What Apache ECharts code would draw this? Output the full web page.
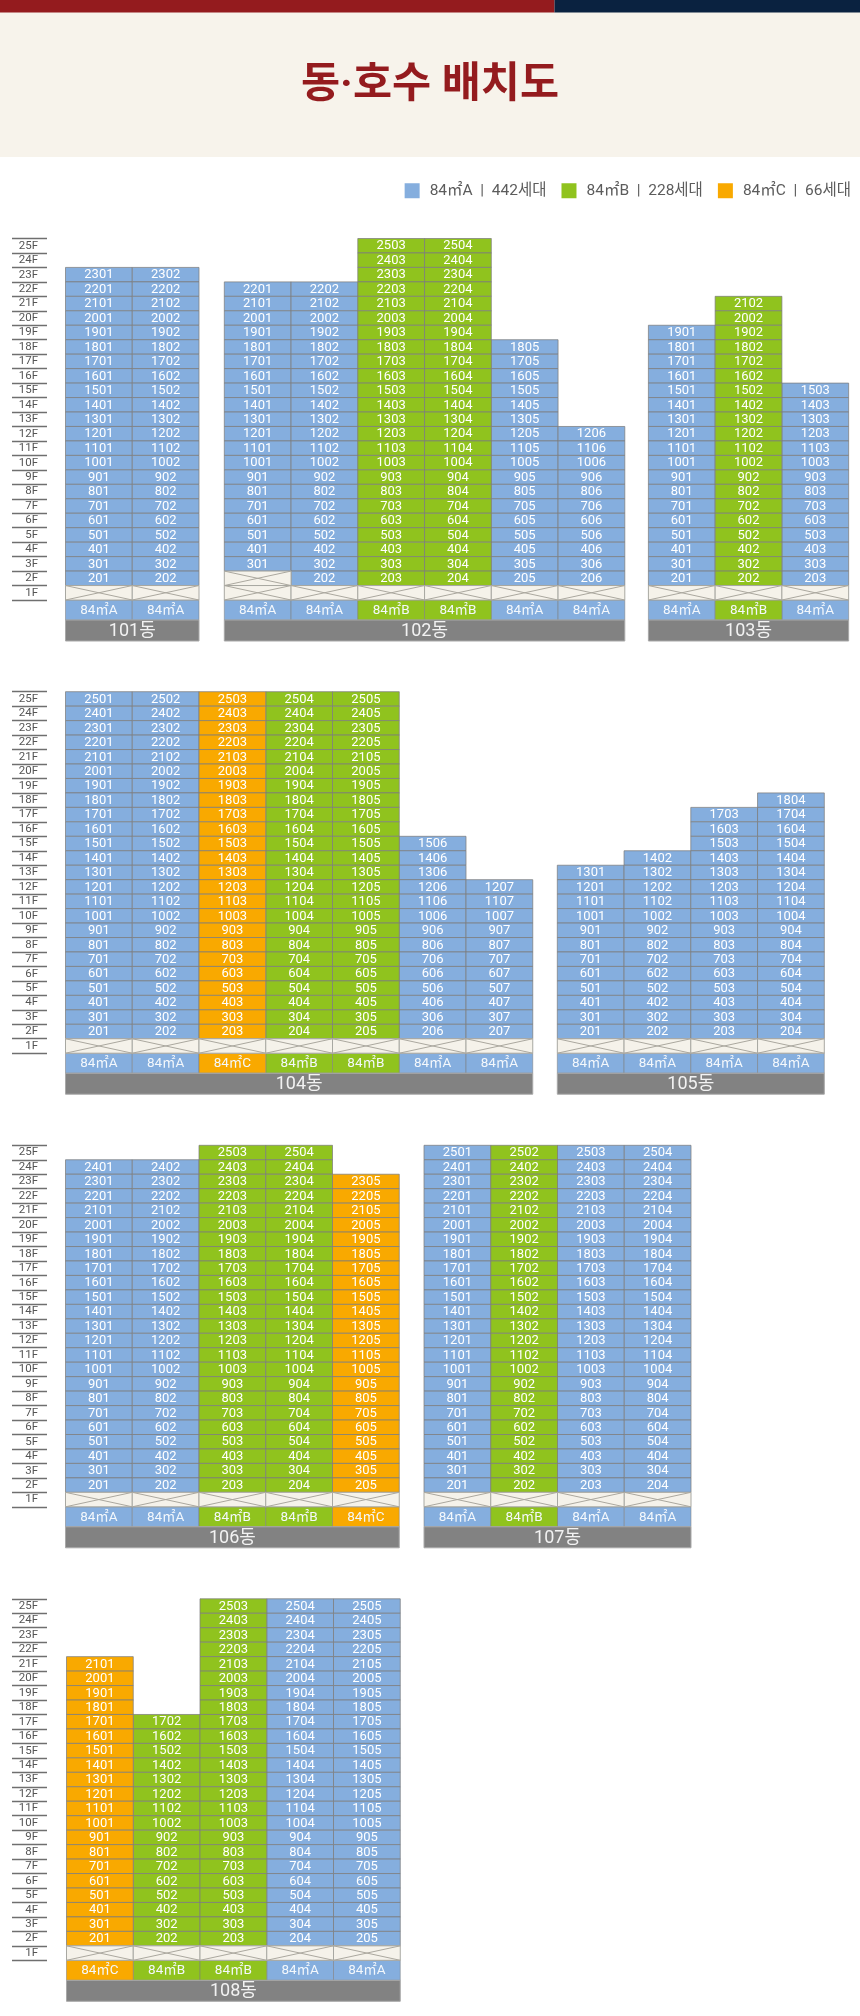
<!DOCTYPE html>
<html>
<head>
<meta charset="utf-8">
<style>
  html, body { margin: 0; padding: 0; background: #fff; }
  #chart { width: 860px; height: 2016px; }
</style>
<script src="https://cdn.jsdelivr.net/npm/echarts@6/dist/echarts.min.js"></script>
</head>
<body>
<div id="chart"></div>
<script>
// floors, top to bottom
const floorLabels = ['25F','24F','23F','22F','21F','20F','19F','18F','17F','16F','15F','14F','13F',
  '12F','11F','10F','9F','8F','7F','6F','5F','4F','3F','2F','1F'];

const buildingNames = ['101동','102동','103동','104동','105동','106동','107동','108동'];

// per column: highest floor, lowest floor with a unit, unit type
const tops101 = [23, 23];
const lows101 = [2, 2];
const types101 = ['A', 'A'];

const tops102 = [22, 22, 25, 25, 18, 12];
const lows102 = [3, 2, 2, 2, 2, 2];
const types102 = ['A', 'A', 'B', 'B', 'A', 'A'];

const tops103 = [19, 21, 15];
const lows103 = [2, 2, 2];
const types103 = ['A', 'B', 'A'];

const tops104 = [25, 25, 25, 25, 25, 15, 12];
const lows104 = [2, 2, 2, 2, 2, 2, 2];
const types104 = ['A', 'A', 'C', 'B', 'B', 'A', 'A'];

const tops105 = [13, 14, 17, 18];
const lows105 = [2, 2, 2, 2];
const types105 = ['A', 'A', 'A', 'A'];

const tops106 = [24, 24, 25, 25, 23];
const lows106 = [2, 2, 2, 2, 2];
const types106 = ['A', 'A', 'B', 'B', 'C'];

const tops107 = [25, 25, 25, 25];
const lows107 = [2, 2, 2, 2];
const types107 = ['A', 'B', 'A', 'A'];

const tops108 = [21, 17, 25, 25, 25];
const lows108 = [2, 2, 2, 2, 2];
const types108 = ['C', 'B', 'B', 'A', 'A'];

const allTops = [tops101, tops102, tops103, tops104, tops105, tops106, tops107, tops108];
const allLows = [lows101, lows102, lows103, lows104, lows105, lows106, lows107, lows108];
const allTypes = [types101, types102, types103, types104, types105, types106, types107, types108];

const typeNames = { A: '84㎡A  |  442세대', B: '84㎡B  |  228세대', C: '84㎡C  |  66세대' };
const typeShort = { A: '84㎡A', B: '84㎡B', C: '84㎡C' };

// layout
const colors = { A: '#85aede', B: '#90c31e', C: '#f9a900' };
const buildingLefts = [65.5, 224.3, 648.4, 65.5, 557.3, 65.5, 424, 66.5];
const buildingTops = [238.5, 238.5, 238.5, 691.7, 691.7, 1145.3, 1145.3, 1598.8];
const showFloorAxis = [true, false, false, true, false, true, false, true];
const colW = 66.75;
const rowH = 14.46;
const typeH = 20;
const dongH = 21;
const axisX = 47;
const cellFont = 'Roboto, "Noto Sans CJK KR", sans-serif';
const cellStroke = 'rgba(125,125,125,0.75)';

function unitCell(params, api) {
  const pos = api.coord([api.value(0), api.value(1)]);
  const size = api.size([1, 1]);
  return {
    type: 'group',
    children: [
      { type: 'rect',
        shape: { x: pos[0] - size[0] / 2, y: pos[1] - size[1] / 2, width: size[0], height: size[1] },
        style: { fill: api.visual('color'), stroke: cellStroke, lineWidth: 1 } },
      { type: 'text',
        style: { x: pos[0], y: pos[1] + 0.5, text: String(api.value(2)), fill: '#fff',
                 font: '13px ' + cellFont, align: 'center', verticalAlign: 'middle' } }
    ]
  };
}

function voidCell(params, api) {
  const pos = api.coord([api.value(0), api.value(1)]);
  const size = api.size([1, 1]);
  const x0 = pos[0] - size[0] / 2, x1 = pos[0] + size[0] / 2;
  const y0 = pos[1] - size[1] / 2, y1 = pos[1] + size[1] / 2;
  const line = { stroke: '#aba89f', lineWidth: 1 };
  return {
    type: 'group',
    children: [
      { type: 'rect', shape: { x: x0, y: y0, width: size[0], height: size[1] },
        style: { fill: '#f5f2ea', stroke: '#a8a8a2', lineWidth: 1 } },
      { type: 'line', shape: { x1: x0, y1: y0, x2: x1, y2: y1 }, style: line },
      { type: 'line', shape: { x1: x0, y1: y1, x2: x1, y2: y0 }, style: line }
    ]
  };
}

function typeCell(params, api, label) {
  const pos = api.coord([api.value(0), '1F']);
  const size = api.size([1, 1]);
  const y0 = pos[1] + size[1] / 2;
  return {
    type: 'group',
    children: [
      { type: 'rect', shape: { x: pos[0] - size[0] / 2, y: y0, width: size[0], height: typeH },
        style: { fill: api.visual('color'), stroke: cellStroke, lineWidth: 0.7 } },
      { type: 'text',
        style: { x: pos[0], y: y0 + typeH / 2 + 0.5, text: label, fill: '#f4f8fc',
                 font: '13.5px ' + cellFont, align: 'center', verticalAlign: 'middle' } }
    ]
  };
}

function dongBar(params, api, label) {
  const first = api.coord([0, '1F']);
  const size = api.size([1, 1]);
  const y0 = first[1] + size[1] / 2 + typeH;
  const width = size[0] * api.value(0);
  const x0 = first[0] - size[0] / 2;
  return {
    type: 'group',
    children: [
      { type: 'rect', shape: { x: x0, y: y0, width: width, height: dongH },
        style: { fill: '#828282', stroke: '#a8a8a8', lineWidth: 1 } },
      { type: 'text',
        style: { x: x0 + width / 2, y: y0 + dongH / 2 + 1, text: label, fill: '#f2f2f2',
                 font: '18px ' + cellFont, align: 'center', verticalAlign: 'middle' } }
    ]
  };
}

const grids = [], xAxes = [], yAxes = [], series = [];

buildingNames.forEach((name, b) => {
  const tops = allTops[b], lows = allLows[b], types = allTypes[b];
  grids.push({ left: buildingLefts[b], top: buildingTops[b], width: colW * tops.length,
               height: rowH * floorLabels.length });
  xAxes.push({ type: 'category', gridIndex: b, show: false, data: tops.map((t, i) => i) });
  yAxes.push({
    type: 'category', gridIndex: b, inverse: true, data: floorLabels,
    show: showFloorAxis[b], position: 'left', offset: buildingLefts[b] - axisX,
    axisLine: { show: false },
    axisTick: { show: true, length: 35, lineStyle: { color: '#6f6f6f', width: 1.4 } },
    axisLabel: { show: true, interval: 0, margin: 9, color: '#555', fontSize: 11.5, fontFamily: cellFont },
    splitLine: { show: false }
  });

  ['A', 'B', 'C'].forEach(t => {
    const cells = [];
    tops.forEach((top, c) => {
      if (types[c] !== t) return;
      for (let f = top; f >= lows[c]; f--) cells.push([c, f + 'F', f * 100 + c + 1]);
    });
    if (!cells.length) return;
    series.push({
      type: 'custom', name: typeNames[t], xAxisIndex: b, yAxisIndex: b, renderItem: unitCell,
      itemStyle: { color: colors[t] }, data: cells, encode: { x: 0, y: 1 }, silent: true
    });
    const typeRows = [];
    types.forEach((v, c) => { if (v === t) typeRows.push([c]); });
    series.push({
      type: 'custom', name: typeNames[t], xAxisIndex: b, yAxisIndex: b,
      renderItem: (p, a) => typeCell(p, a, typeShort[t]),
      itemStyle: { color: colors[t] }, data: typeRows, encode: { x: 0 }, silent: true
    });
  });

  const voids = [];
  lows.forEach((low, c) => {
    for (let f = low - 1; f >= 1; f--) voids.push([c, f + 'F']);
  });
  series.push({
    type: 'custom', xAxisIndex: b, yAxisIndex: b, renderItem: voidCell,
    data: voids, encode: { x: 0, y: 1 }, silent: true
  });

  series.push({
    type: 'custom', xAxisIndex: b, yAxisIndex: b,
    renderItem: (p, a) => dongBar(p, a, name),
    data: [[tops.length]], silent: true
  });
});

const chart = echarts.init(document.getElementById('chart'), null, { renderer: 'canvas' });
chart.setOption({
  animation: false,
  backgroundColor: '#fff',
  title: {
    text: '동·호수 배치도', left: 'center', top: 60,
    textStyle: { color: '#941b1e', fontSize: 42.5, fontWeight: 'bold', fontFamily: 'Roboto, "Noto Sans CJK KR"' }
  },
  graphic: [
    { type: 'rect', z: -1, shape: { x: 0, y: 0, width: 860, height: 157 }, style: { fill: '#f7f3eb' } },
    { type: 'rect', z: -1, shape: { x: 0, y: 0, width: 554.5, height: 12.5 }, style: { fill: '#941b1e' } },
    { type: 'rect', z: -1, shape: { x: 554.5, y: 0, width: 305.5, height: 12.5 }, style: { fill: '#0a2240' } }
  ],
  legend: {
    right: 4, top: 178, icon: 'rect', itemWidth: 15, itemHeight: 15, itemGap: 15, selectedMode: false,
    data: [typeNames.A, typeNames.B, typeNames.C],
    textStyle: { color: '#5c5c5c', fontSize: 15.5, fontFamily: 'Roboto, "Noto Sans CJK KR"', padding: [0, 0, 0, 5] }
  },
  grid: grids,
  xAxis: xAxes,
  yAxis: yAxes,
  series: series
});
</script>
</body>
</html>
